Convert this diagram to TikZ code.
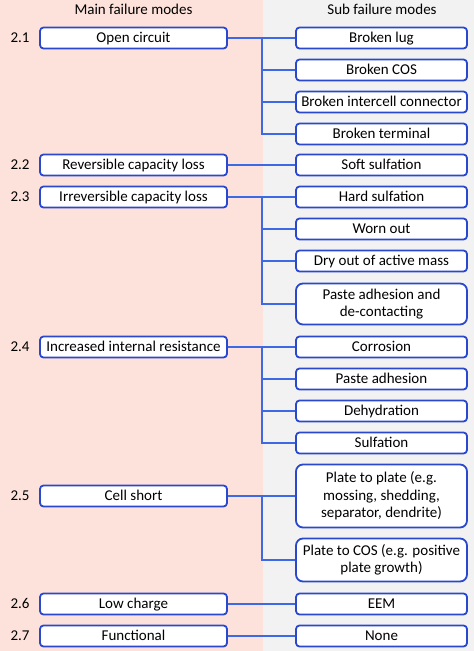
\documentclass[tikz,border=0pt]{standalone}
\usepackage{fontspec}
\setmainfont{Carlito}
\definecolor{pinkbg}{RGB}{252,226,219}
\definecolor{graybg}{RGB}{242,242,242}
\definecolor{boxblue}{RGB}{42,72,205}
\definecolor{linkblue}{RGB}{62,105,228}
\begin{document}
\begin{tikzpicture}[x=1pt,y=-1pt,
  every node/.style={font=\fontsize{15}{16.5}\selectfont},
  mainbox/.style={draw=boxblue,line width=1.8pt,fill=white,rounded corners=3.5pt,minimum width=187pt,minimum height=21pt,inner sep=1pt,text height=11pt,text depth=2pt},
  subbox/.style={draw=boxblue,line width=1.8pt,fill=white,rounded corners=3.5pt,minimum width=171pt,minimum height=21pt,inner sep=1pt,align=center,text height=11pt,text depth=2pt},
  tallbox/.style={draw=boxblue,line width=1.8pt,fill=white,rounded corners=7pt,minimum width=171pt,inner sep=1pt,align=center,font=\fontsize{15}{17.5}\selectfont},
  numlabel/.style={text height=11pt,text depth=2pt},
  conn/.style={draw=linkblue,line width=1.8pt}]
\fill[pinkbg] (0,0) rectangle (262.5,651);
\fill[graybg] (262.5,0) rectangle (474,651);
\useasboundingbox (0,0) rectangle (474,651);
\node[numlabel] (h1) at (133.5,9.5) {Main failure modes};
\node[numlabel] (h2) at (382,9.5) {Sub failure modes};
\coordinate (bus) at (262,0);
% main
\node[mainbox] (m1) at (133.5,38) {Open circuit};
\node[mainbox] (m2) at (133.5,165) {Reversible capacity loss};
\node[mainbox] (m3) at (133.5,197) {Irreversible capacity loss};
\node[mainbox] (m4) at (133.5,347) {Increased internal resistance};
\node[mainbox] (m5) at (133.5,496) {Cell short};
\node[mainbox] (m6) at (133.5,604) {Low charge};
\node[mainbox] (m7) at (133.5,636) {Functional};
\node[numlabel] (n1) at (20,38) {2.1};
\node[numlabel] (n2) at (20,165) {2.2};
\node[numlabel] (n3) at (20,197) {2.3};
\node[numlabel] (n4) at (20,347) {2.4};
\node[numlabel] (n5) at (20,496) {2.5};
\node[numlabel] (n6) at (20,604) {2.6};
\node[numlabel] (n7) at (20,636) {2.7};
% sub
\node[subbox] (s11) at (381.5,38) {Broken lug};
\node[subbox] (s12) at (381.5,70) {Broken COS};
\node[subbox] (s13) at (381.5,102) {Broken intercell connector};
\node[subbox] (s14) at (381.5,134) {Broken terminal};
\node[subbox] (s21) at (381.5,165) {Soft sulfation};
\node[subbox] (s31) at (381.5,197) {Hard sulfation};
\node[subbox] (s32) at (381.5,229) {Worn out};
\node[subbox] (s33) at (381.5,261) {Dry out of active mass};
\node[tallbox,minimum height=41pt] (s34) at (381.5,304) {Paste adhesion and\\de-contacting};
\node[subbox] (s41) at (381.5,347) {Corrosion};
\node[subbox] (s42) at (381.5,379) {Paste adhesion};
\node[subbox] (s43) at (381.5,411) {Dehydration};
\node[subbox] (s44) at (381.5,443) {Sulfation};
\node[tallbox,minimum height=63pt] (s51) at (381.5,496) {Plate to plate (e.g.\\mossing, shedding,\\separator, dendrite)};
\node[tallbox,minimum height=43pt] (s52) at (381.5,560) {Plate to COS (e.g. positive\\plate growth)};
\node[subbox] (s61) at (381.5,604) {EEM};
\node[subbox] (s71) at (381.5,636) {None};
% connectors
\draw[conn] (m1.east) -- (s11.west);
\draw[conn] (m1.east -| bus) |- (s12.west);
\draw[conn] (m1.east -| bus) |- (s13.west);
\draw[conn] (m1.east -| bus) |- (s14.west);
\draw[conn] (m2.east) -- (s21.west);
\draw[conn] (m3.east) -- (s31.west);
\draw[conn] (m3.east -| bus) |- (s32.west);
\draw[conn] (m3.east -| bus) |- (s33.west);
\draw[conn] (m3.east -| bus) |- (s34.west);
\draw[conn] (m4.east) -- (s41.west);
\draw[conn] (m4.east -| bus) |- (s42.west);
\draw[conn] (m4.east -| bus) |- (s43.west);
\draw[conn] (m4.east -| bus) |- (s44.west);
\draw[conn] (m5.east) -- (s51.west);
\draw[conn] (m5.east -| bus) |- (s52.west);
\draw[conn] (m6.east) -- (s61.west);
\draw[conn] (m7.east) -- (s71.west);
\end{tikzpicture}
\end{document}
